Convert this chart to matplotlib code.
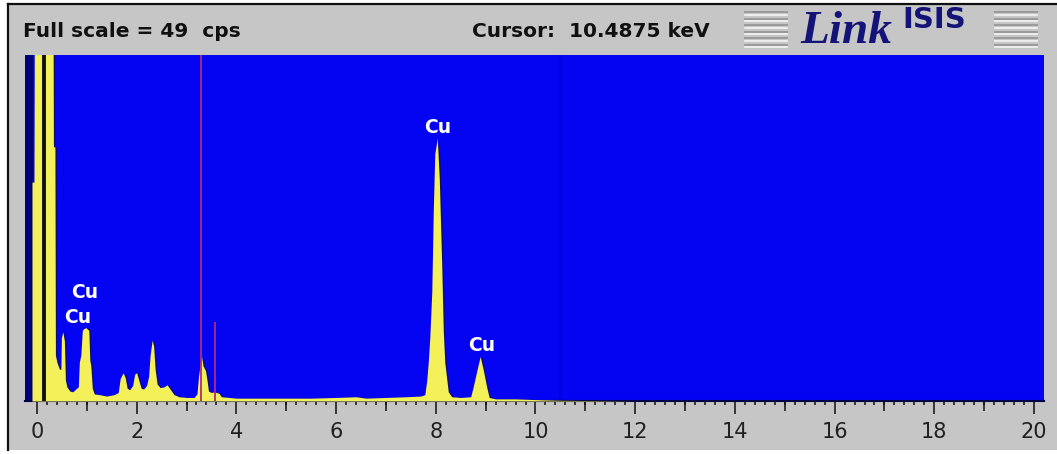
import matplotlib
matplotlib.use("Agg")
import matplotlib.pyplot as plt
from matplotlib.patches import Rectangle
from matplotlib.lines import Line2D

# spectrum (keV, counts per second)
energy_kev = [-0.10, -0.06, -0.05, 0.32, 0.33, 0.36, 0.37, 0.40, 0.45, 0.48,
              0.49, 0.52, 0.55, 0.57, 0.60, 0.66, 0.72, 0.78, 0.83, 0.85,
              0.88, 0.91, 0.93, 0.98, 1.04, 1.06, 1.08, 1.11, 1.15, 1.25,
              1.40, 1.55, 1.63, 1.67, 1.73, 1.77, 1.81, 1.86, 1.92, 1.96,
              2.00, 2.04, 2.09, 2.14, 2.20, 2.24, 2.27, 2.31, 2.34, 2.37,
              2.41, 2.47, 2.55, 2.61, 2.68, 2.75, 2.85, 3.00, 3.15, 3.21,
              3.24, 3.30, 3.33, 3.38, 3.41, 3.44, 3.50, 3.55, 3.65, 3.70,
              4.0, 4.5, 5.0, 5.5, 6.0, 6.4, 6.6, 7.0, 7.4, 7.7,
              7.78, 7.82, 7.85, 7.88, 7.92, 7.95, 7.98, 8.03, 8.07, 8.12,
              8.15, 8.18, 8.25, 8.32, 8.5, 8.70, 8.75, 8.82, 8.89, 8.95,
              9.02, 9.07, 9.2, 9.6, 10.0, 10.5, 12.0, 16.0, 20.2]
counts_cps = [31, 31, 60, 60, 36, 36, 6.5, 5.5, 4.5, 4.5,
              9.0, 9.8, 8.5, 3.0, 2.0, 1.4, 1.3, 1.7, 2.0, 5.5,
              6.5, 10.0, 10.2, 10.4, 10.0, 5.8, 5.0, 1.8, 1.0, 0.9,
              0.7, 0.9, 1.2, 3.2, 4.0, 3.3, 1.8, 1.6, 2.2, 3.8,
              4.0, 3.0, 1.8, 1.7, 2.2, 3.5, 6.5, 8.6, 7.8, 4.5,
              2.4, 1.9, 2.0, 2.3, 1.6, 0.9, 0.6, 0.5, 0.5, 1.0,
              3.5, 6.4, 5.0, 4.3, 3.0, 1.4, 1.2, 1.3, 1.1, 0.6,
              0.4, 0.4, 0.4, 0.4, 0.5, 0.6, 0.4, 0.5, 0.6, 0.7,
              0.9, 3.0, 5.6, 9.0, 15.5, 27.0, 35.0, 37.2, 31.5, 19.0,
              10.0, 5.5, 1.3, 0.6, 0.5, 0.6, 2.0, 4.2, 6.3, 4.5,
              2.0, 0.5, 0.3, 0.3, 0.2, 0.1, 0.0, 0.0, 0.0]

# peak labels (text, keV, cps)
label_text = ["Cu", "Cu", "Cu", "Cu"]
label_kev = [0.96, 0.82, 8.04, 8.93]
label_cps = [15.4, 11.8, 38.7, 7.9]

full_scale = 49
cursor_kev = 10.4875
marker_kev = 3.30
short_marker_kev = 3.57
short_marker_cps = 11.2
zero_marker_kev = 0.14

tick_values = list(range(0, 21, 2))
tick_labels = [str(v) for v in tick_values]
odd_ticks = list(range(1, 20, 2))
minor_ticks = [i / 5 for i in range(0, 101)]

W, H = 1057, 454
fig = plt.figure(figsize=(W / 100, H / 100), dpi=100, facecolor="white")

# grey instrument panel with black top/left edge
fig.patches.append(Rectangle((8 / W, 1 - 450 / H), (W - 8) / W, (450 - 4) / H,
                             transform=fig.transFigure, facecolor="#c6c6c6",
                             edgecolor="none", zorder=-5))
fig.lines.append(Line2D([8 / W, 8 / W], [1 - 450 / H, 1 - 4 / H],
                        transform=fig.transFigure, color="#101010", lw=1.6))
fig.lines.append(Line2D([8 / W, 1], [1 - 4 / H, 1 - 4 / H],
                        transform=fig.transFigure, color="#101010", lw=1.6))

ax = fig.add_axes([25 / W, 1 - 401 / H, (1044 - 25) / W, (401 - 55) / H])
ax.set_facecolor("#0404f2")
ax.set_xlim(-0.24, 20.2)
ax.set_ylim(0, full_scale)

# dark strip left of zero and cursor line
ax.axvspan(-0.24, -0.10, color="#00007a", zorder=1)
ax.axvline(cursor_kev, color="#0000c0", lw=2.5, alpha=0.35, zorder=1)

# spectrum with slight shadow
ax.fill_between([e + 0.03 for e in energy_kev], counts_cps, 0,
                color="#101060", lw=0, zorder=2)
ax.fill_between(energy_kev, counts_cps, 0, color="#f4f05a", lw=0, zorder=3)

ax.axvline(zero_marker_kev, color="#101010", lw=2.8, zorder=4)
ax.axvline(marker_kev, color="#b02a78", lw=1.3, zorder=4)
ax.vlines(short_marker_kev, 0, short_marker_cps, color="#b02a78", lw=1.3, zorder=4)

for t, x, y in zip(label_text, label_kev, label_cps):
    ax.text(x, y, t, color="white", fontsize=13.5, fontweight="bold",
            ha="center", va="center", zorder=5)

for side in ["top", "left", "right"]:
    ax.spines[side].set_visible(False)
ax.spines["bottom"].set_color("#00004a")
ax.spines["bottom"].set_linewidth(1.5)
ax.set_yticks([])

ax.set_xticks(tick_values, tick_labels)
ax.set_xticks(minor_ticks, minor=True)
ax.tick_params(axis="x", which="major", direction="out", length=9.4, width=1.1,
               color="#101010", labelsize=15, labelcolor="#202020", pad=6)
ax.tick_params(axis="x", which="minor", direction="out", length=3.2, width=1.1,
               color="#101010")

# odd keV ticks are a bit longer than the minor ones
sec = ax.secondary_xaxis("bottom")
sec.set_xticks(odd_ticks, [""] * len(odd_ticks))
sec.tick_params(axis="x", direction="out", length=7, width=1.1, color="#101010")
sec.spines["bottom"].set_visible(False)

# header texts
fig.text(23 / W, 1 - 37 / H, "Full scale = %d  cps" % full_scale,
         fontsize=14.5, fontweight="bold", color="#101010", va="baseline")
fig.text(472 / W, 1 - 37 / H, "Cursor:  %.4f keV" % cursor_kev,
         fontsize=14.5, fontweight="bold", color="#101010", va="baseline")

# logo
fig.text(800 / W, 1 - 43 / H, "Link", family="Liberation Serif", style="italic",
         fontweight="bold", fontsize=34, color="#141478", va="baseline")
fig.text(902 / W, 1 - 28 / H, "ISIS", fontweight="bold", fontsize=21,
         color="#141478", va="baseline")
for x0, x1 in [(745, 787), (995, 1037)]:
    for i in range(6):
        y = 12 + 6.5 * i
        fig.lines.append(Line2D([x0 / W, x1 / W], [1 - y / H, 1 - y / H],
                                transform=fig.transFigure, color="#9a9a9a", lw=1.4))
        fig.lines.append(Line2D([x0 / W, x1 / W], [1 - (y + 2.5) / H, 1 - (y + 2.5) / H],
                                transform=fig.transFigure, color="#f4f4f4", lw=1.2))

fig.savefig("out.png", dpi=100, facecolor=fig.get_facecolor())
